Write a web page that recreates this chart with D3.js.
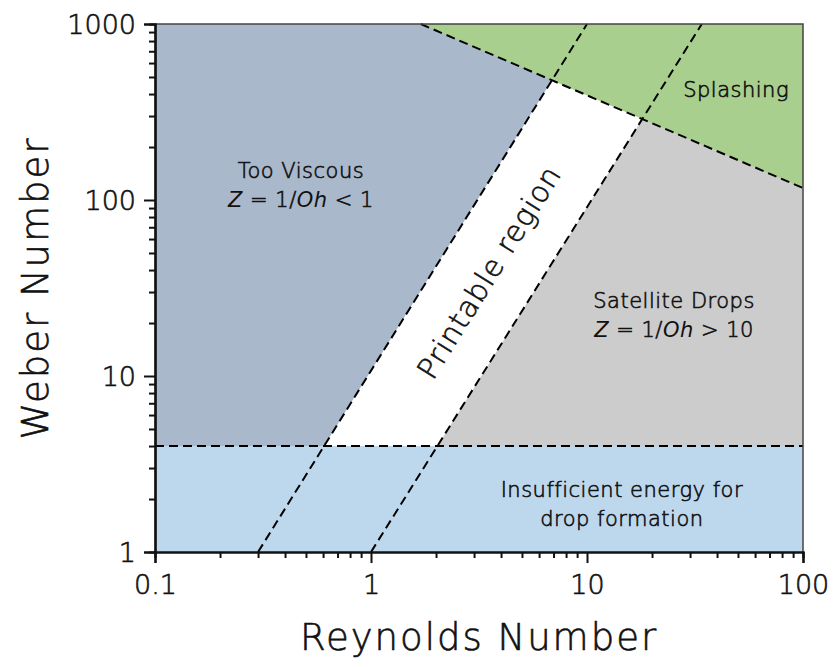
<!DOCTYPE html>
<html>
<head>
<meta charset="utf-8">
<script src="https://cdn.jsdelivr.net/npm/d3@7"></script>
<style>
  body { margin: 0; background: #fff; }
  text { font-family: "Century Gothic", "DejaVu Sans", sans-serif; fill: #111; font-weight: 300;
         stroke: #111; stroke-width: 0.6px; }
  .it { font-style: italic; font-weight: 400; stroke: none; }
</style>
</head>
<body>
<svg width="833" height="667"></svg>
<script>
// axis ranges and tick labels
let reDomain = [0.1, 100];
let weDomain = [1, 1000];
let reTicks = [0.1, 1, 10, 100];
let weTicks = [1, 10, 100, 1000];

// boundary lines, as [Re, We] end points
let viscousLine = [[0.3, 1], [10, 1000]];      // Z = 1
let satelliteLine = [[1, 1], [34, 1000]];      // Z = 10
let splashLine = [[1.7, 1000], [100, 117]];
let energyWe = 4;

// region labels
let labels = [
  { lines: ["Too Viscous", "Z = 1/Oh < 1"], re: 0.474, we: 133 },
  { lines: ["Satellite Drops", "Z = 1/Oh > 10"], re: 25.3, we: 24.3 },
  { lines: ["Splashing"], re: 49, we: 385 },
  { lines: ["Insufficient energy for", "drop formation"], re: 14.5, we: 2.05 }
];

let svg = d3.select("svg");
let margin = { left: 155, right: 30, top: 24, bottom: 115 };

let x = d3.scaleLog().domain(reDomain).range([margin.left, 803]);
let y = d3.scaleLog().domain(weDomain).range([552, margin.top]);

let pt = d => [x(d[0]), y(d[1])];
let poly = pts => "M" + pts.map(p => pt(p).join(",")).join("L") + "Z";

let plot = svg.append("g");

// blue-grey region: left of Z = 1 line
plot.append("path")
  .attr("d", poly([[0.1, 1], viscousLine[0], viscousLine[1], [0.1, 1000]]))
  .style("fill", "#a9b8ca");

// grey region: right of Z = 10 line
plot.append("path")
  .attr("d", poly([satelliteLine[0], satelliteLine[1], [100, 1000], [100, 1]]))
  .style("fill", "#cccccc");

// green splashing region
plot.append("path")
  .attr("d", poly([splashLine[0], splashLine[1], [100, 1000]]))
  .style("fill", "#a9cf8f");

// light blue band at the bottom
plot.append("rect")
  .attr("x", x(0.1))
  .attr("y", y(energyWe))
  .attr("width", x(100) - x(0.1))
  .attr("height", y(1) - y(energyWe))
  .style("fill", "#bdd7ec");

// dashed boundaries
let dashed = [
  [[0.1, energyWe], [100, energyWe]],
  viscousLine,
  satelliteLine,
  splashLine
];
plot.selectAll("line.bound")
  .data(dashed)
  .enter()
  .append("line")
  .attr("class", "bound")
  .attr("x1", d => x(d[0][0]))
  .attr("y1", d => y(d[0][1]))
  .attr("x2", d => x(d[1][0]))
  .attr("y2", d => y(d[1][1]))
  .style("stroke", "#000")
  .style("stroke-width", 2)
  .style("stroke-dasharray", "9,5");

// top and right border
svg.append("path")
  .attr("d", `M${x(0.1)},${y(1000)}H${x(100)}V${y(1)}`)
  .style("fill", "none")
  .style("stroke", "#444")
  .style("stroke-width", 1.5);

// minor ticks
let minors = d => {
  let out = [];
  for (let k = Math.log10(d[0]); k < Math.log10(d[1]); k++)
    for (let m = 2; m <= 9; m++) out.push(m * Math.pow(10, k));
  return out;
};

let xAxis = svg.append("g").attr("transform", `translate(0,${y(1)})`);
xAxis.call(d3.axisBottom(x).tickValues(minors(reDomain)).tickSize(6).tickFormat(""));
xAxis.append("g").call(d3.axisBottom(x).tickValues(reTicks).tickSize(11).tickPadding(8).tickFormat(d => d));

let yAxis = svg.append("g").attr("transform", `translate(${x(0.1)},0)`);
yAxis.call(d3.axisLeft(y).tickValues(minors(weDomain)).tickSize(6).tickFormat(""));
yAxis.append("g").call(d3.axisLeft(y).tickValues(weTicks).tickSize(11).tickPadding(8).tickFormat(d => d));

svg.selectAll(".domain").style("stroke", "#111").style("stroke-width", 2.2);
svg.selectAll(".tick line").style("stroke", "#111").style("stroke-width", 2);
svg.selectAll(".tick text")
  .attr("font-family", null)
  .attr("font-size", null)
  .style("font-size", "27px")
  .style("fill", "#111");
xAxis.selectAll(".tick text").attr("dy", "0.85em");
yAxis.selectAll(".tick text").attr("dy", "0.35em");

// axis titles
svg.append("text")
  .attr("x", (x(0.1) + x(100)) / 2)
  .attr("y", 650)
  .attr("text-anchor", "middle")
  .style("font-size", "37px")
  .style("letter-spacing", "2px")
  .text("Reynolds Number");

svg.append("text")
  .attr("transform", `translate(48,${(y(1) + y(1000)) / 2}) rotate(-90)`)
  .attr("text-anchor", "middle")
  .style("font-size", "37px")
  .style("letter-spacing", "2px")
  .text("Weber Number");

// region labels, "Oh" and "Z" in italics
let lab = svg.selectAll("text.region")
  .data(labels)
  .enter()
  .append("text")
  .attr("class", "region")
  .attr("text-anchor", "middle")
  .style("font-size", "21px")
  .style("letter-spacing", "0.5px");

lab.each(function (d) {
  let t = d3.select(this);
  d.lines.forEach((s, i) => {
    let ts = t.append("tspan")
      .attr("x", x(d.re))
      .attr("y", y(d.we) + i * 29);
    if (s.startsWith("Z =")) {
      let parts = s.match(/^Z( = 1\/)Oh(.*)$/);
      ts.append("tspan").attr("class", "it").text("Z");
      ts.append("tspan").text(parts[1]);
      ts.append("tspan").attr("class", "it").text("Oh");
      ts.append("tspan").text(parts[2]);
    } else {
      ts.text(s);
    }
  });
});

// rotated "Printable region" label along the dashed lines
let ang = Math.atan2(y(viscousLine[1][1]) - y(viscousLine[0][1]), x(viscousLine[1][0]) - x(viscousLine[0][0])) * 180 / Math.PI;
svg.append("text")
  .attr("transform", `translate(${x(3.52)},${y(39)}) rotate(${ang})`)
  .attr("text-anchor", "middle")
  .attr("dy", "0.35em")
  .style("font-size", "29px")
  .style("letter-spacing", "1px")
  .text("Printable region");
</script>
</body>
</html>
